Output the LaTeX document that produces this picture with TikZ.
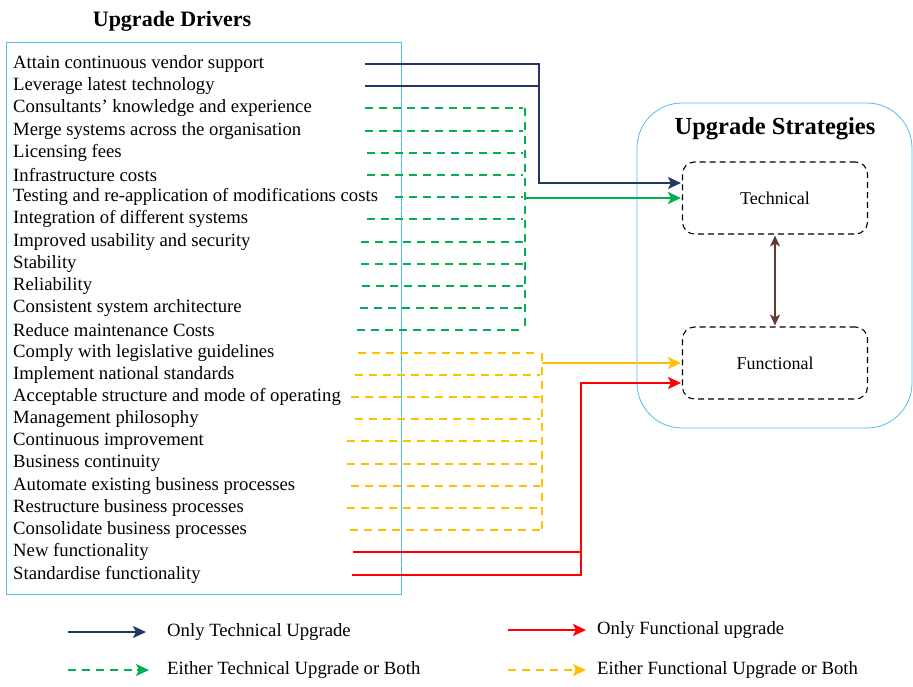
\documentclass[tikz,border=0pt]{standalone}
\usepackage{fontspec}
\setmainfont{Liberation Serif}
\usetikzlibrary{arrows.meta}

\definecolor{navy}{RGB}{31,56,100}
\definecolor{leafgreen}{RGB}{0,176,80}
\definecolor{amber}{RGB}{255,192,0}
\definecolor{skyline}{RGB}{80,190,235}
\definecolor{maroon}{RGB}{100,55,50}

\tikzset{
  driver/.style={anchor=west, inner sep=0pt, font=\fontsize{18.7}{21}\selectfont},
  heading/.style={inner sep=0pt, font=\bfseries\fontsize{22}{24}\selectfont},
  panel/.style={draw=skyline, line width=0.8pt},
  strategy/.style={draw, dash pattern=on 6pt off 4pt, rounded corners=12pt, line width=1.1pt,
    minimum width=185pt, minimum height=72pt, font=\fontsize{18}{20}\selectfont},
  onlytech/.style={draw=navy, line width=2pt},
  eithertech/.style={draw=leafgreen, line width=2pt},
  onlyfunc/.style={draw=red, line width=2pt},
  eitherfunc/.style={draw=amber, line width=2pt},
  feed/.style={dash pattern=on 8pt off 6pt},
}

\begin{document}
\begin{tikzpicture}[x=1pt, y=-1pt, >={Stealth[length=13pt,width=12pt,inset=3pt]}, shorten >=1pt]
  \useasboundingbox (0,0) rectangle (913,686);

  % left panel with the drivers
  \node[heading] (drvtitle) at (172,21) {Upgrade Drivers};
  \draw[panel] (6,42) rectangle (401,594);
  \foreach \txt [count=\i] in {Attain continuous vendor support, Leverage latest technology,
      Consultants’ knowledge and experience, Merge systems across the organisation,
      Licensing fees, Infrastructure costs, Testing and re-application of modifications costs,
      Integration of different systems, Improved usability and security, Stability,
      Reliability, Consistent system architecture, Reduce maintenance Costs,
      Comply with legislative guidelines, Implement national standards,
      Acceptable structure and mode of operating, Management philosophy,
      Continuous improvement, Business continuity, Automate existing business processes,
      Restructure business processes, Consolidate business processes,
      New functionality, Standardise functionality}
    \node[driver] (d\i) at (13,{64+22.2*(\i-1)}) {\txt};

  % right panel with the strategies
  \draw[panel, rounded corners=45pt] (637,103) rectangle (912,428);
  \node[heading, font=\bfseries\fontsize{24.5}{27}\selectfont] (strtitle) at (775,129) {Upgrade Strategies};
  \node[strategy] (tech) at (775,198) {Technical};
  \node[strategy] (func) at (775,363) {Functional};
  \draw[draw=maroon, line width=1.6pt, {Stealth[length=11pt,width=10pt,inset=3pt]}-{Stealth[length=11pt,width=10pt,inset=3pt]}, shorten <=1pt] (tech) -- (func);

  % only technical
  \coordinate (navyjoin) at (539,183);
  \draw[onlytech] (365,0 |- d2) -- (539,0 |- d2);
  \draw[onlytech,->] (365,0 |- d1) -| (navyjoin) -- (tech.west |- navyjoin);

  % technical or both
  \foreach \r/\s in {3/365,4/365,5/367,6/367,7/395,8/367,9/361,10/361,11/362,12/360,13/357}
    \draw[eithertech,feed] (\s,0 |- d\r) -- (524,0 |- d\r);
  \draw[eithertech,feed] (525,0 |- d3) -- (525,0 |- d13);
  \coordinate (greenjoin) at (525,198);
  \draw[eithertech,line width=2.5pt,->] (greenjoin) -- (tech.west);

  % functional or both
  \foreach \r/\s in {14/358,15/355,16/351,17/355,18/347,19/347,20/351,21/347,22/350}
    \draw[eitherfunc,feed] (\s,0 |- d\r) -- (541,0 |- d\r);
  \draw[eitherfunc,feed] (542,0 |- d14) -- (542,0 |- d22);
  \coordinate (amberjoin) at (542,363);
  \draw[eitherfunc,->] (amberjoin) -- (func.west);

  % only functional
  \coordinate (redjoin) at (581,383);
  \draw[onlyfunc] (353,0 |- d23) -- (581,0 |- d23);
  \draw[onlyfunc,->] (352,0 |- d24) -| (redjoin) -- (func.west |- redjoin);

  % legend
  \node[driver] (lg1) at (167,632) {Only Technical Upgrade};
  \node[driver] (lg2) at (167,670) {Either Technical Upgrade or Both};
  \node[driver] (lg3) at (597,630) {Only Functional upgrade};
  \node[driver] (lg4) at (597,670) {Either Functional Upgrade or Both};
  \draw[onlytech,->] (68,0 |- lg1) -- ([xshift=-20pt]lg1.west);
  \draw[eithertech,feed] (68,0 |- lg2) -- ([xshift=-30pt]lg2.west);
  \draw[eithertech,->] ([xshift=-30pt]lg2.west) -- ([xshift=-17pt]lg2.west);
  \draw[onlyfunc,->] (508,0 |- lg3) -- ([xshift=-10pt]lg3.west);
  \draw[eitherfunc,feed] (508,0 |- lg4) -- ([xshift=-22pt]lg4.west);
  \draw[eitherfunc,->] ([xshift=-22pt]lg4.west) -- ([xshift=-10pt]lg4.west);
\end{tikzpicture}
\end{document}
